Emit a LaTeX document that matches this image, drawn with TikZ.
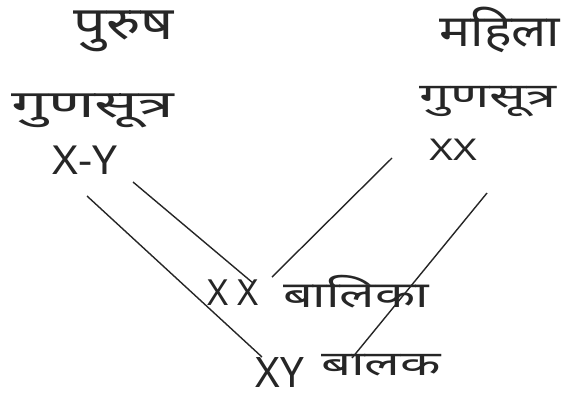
\documentclass[tikz,border=0pt]{standalone}
\usepackage{fontspec}
\setmainfont{Noto Sans}
\newfontfamily\deva[Script=Devanagari]{Noto Sans}
\newcommand{\wide}[2]{\scalebox{#1}[1]{#2}}
\begin{document}
\begin{tikzpicture}[x=1pt,y=-1pt,
    word/.style={inner sep=0pt, text=black!85, font=\deva\fontsize{#1}{#1}\selectfont},
    link/.style={draw=black!85, line width=1.4pt}]
    \useasboundingbox (0,0) rectangle (564,405);
    % left side: male
    \node[word=46] (purush) at (124,31) {\wide{1.25}{पुरुष}};
    \node[word=38] (purushgs) at (93,111) {\wide{1.7}{गुणसूत्र}};
    \node[word=40] (purushxy) at (85,160) {\wide{1.1}{X-Y}};
    % right side: female
    \node[word=44] (mahila) at (500,30) {\wide{1.18}{महिला}};
    \node[word=34] (mahilags) at (488,102) {\wide{1.6}{गुणसूत्र}};
    \node[word=30] (mahilaxx) at (453,150) {\wide{1.35}{XX}};
    % children
    \node[word=36] (girlxx) at (233,293) {X X};
    \node[word=36] (girl) at (356,292) {\wide{1.45}{बालिका}};
    \node[word=42] (boyxy) at (280,372) {XY};
    \node[word=34] (boy) at (381,365) {\wide{1.55}{बालक}};
    % lines of inheritance
    \draw[link] ([shift={(2,36)}]purushxy.center) -- ([shift={(-18,-15)}]boyxy.center);
    \draw[link] ([shift={(48,22)}]purushxy.center) -- ([shift={(20,-10)}]girlxx.center);
    \draw[link] ([shift={(-61,8)}]mahilaxx.center) -- ([shift={(39,-16)}]girlxx.center);
    \draw[link] ([shift={(34,43)}]mahilaxx.center) -- ([shift={(-29,-7)}]boy.center);
\end{tikzpicture}
\end{document}
